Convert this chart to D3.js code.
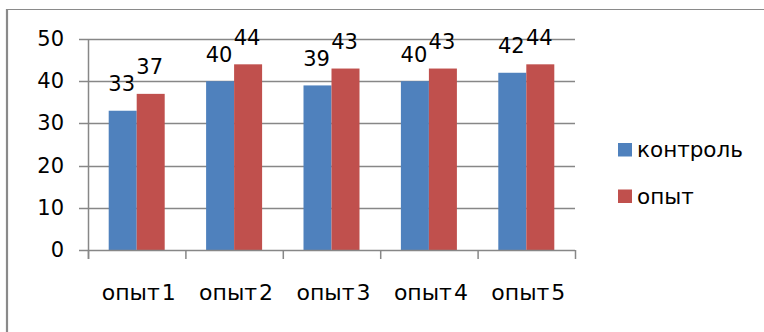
<!DOCTYPE html>
<html>
<head>
<meta charset="utf-8">
<script src="https://cdn.jsdelivr.net/npm/d3@7"></script>
<style>
  html, body { margin: 0; padding: 0; background: #fff; }
  svg { display: block; }
  text { font-family: "DejaVu Sans", Verdana, sans-serif; fill: #000; }
</style>
</head>
<body>
<svg id="chart" width="764" height="332"></svg>
<script>
// Data
const categories = ["опыт 1", "опыт 2", "опыт 3", "опыт 4", "опыт 5"];
const seriesNames = ["контроль", "опыт"];
const controlValues = [33, 40, 39, 40, 42];
const trialValues = [37, 44, 43, 43, 44];
const yTicks = [0, 10, 20, 30, 40, 50];
const colors = ["#4F81BD", "#C0504D"];

const series = [controlValues, trialValues];

const svg = d3.select("#chart");

// Outer frame (top and left edges visible)
svg.append("line").attr("x1", 7).attr("x2", 764).attr("y1", 9.5).attr("y2", 9.5)
  .attr("stroke", "#8a8a8a").attr("stroke-width", 1.2);
svg.append("line").attr("x1", 7).attr("x2", 7).attr("y1", 9).attr("y2", 332)
  .attr("stroke", "#8a8a8a").attr("stroke-width", 2.2);

// Plot area
const plotLeft = 88, plotRight = 575, plotTop = 39, plotBottom = 250;

const x = d3.scaleBand().domain(categories).range([plotLeft, plotRight]).paddingInner(0).paddingOuter(0);
const y = d3.scaleLinear().domain([0, 50]).range([plotBottom, plotTop]);
const innerBand = 28;
const xs = d3.scaleBand().domain(d3.range(series.length)).range([0, innerBand * series.length]);

const gridColor = "#878787";

// Horizontal gridlines, with tick stubs extending left of the axis
svg.append("g").selectAll("line").data(yTicks.filter(t => t > 0)).join("line")
  .attr("x1", plotLeft - 9).attr("x2", plotRight)
  .attr("y1", d => Math.round(y(d)) + 0.5).attr("y2", d => Math.round(y(d)) + 0.5)
  .attr("stroke", gridColor).attr("stroke-width", 1.5);

// Y axis labels
svg.append("g").selectAll("text").data(yTicks).join("text")
  .attr("x", 64).attr("y", d => y(d) + 7)
  .attr("text-anchor", "end")
  .attr("font-size", 21)
  .text(d => d);

// Bars with value labels
const groups = svg.append("g").selectAll("g").data(categories).join("g")
  .attr("transform", c => `translate(${x(c) + x.bandwidth() / 2 - innerBand},0)`);

groups.each(function (c, ci) {
  const g = d3.select(this);
  series.forEach((vals, si) => {
    g.append("rect")
      .attr("x", xs(si))
      .attr("y", y(vals[ci]))
      .attr("width", xs.bandwidth())
      .attr("height", plotBottom - y(vals[ci]))
      .attr("fill", colors[si]);
    g.append("text")
      .attr("x", xs(si) + xs.bandwidth() / 2 - 1)
      .attr("y", y(vals[ci]) - 19.5)
      .attr("text-anchor", "middle")
      .attr("font-size", 21)
      .text(vals[ci]);
  });
});

// Y axis line
svg.append("line").attr("x1", plotLeft + 0.5).attr("x2", plotLeft + 0.5).attr("y1", plotTop).attr("y2", plotBottom + 9)
  .attr("stroke", gridColor).attr("stroke-width", 1.5);

// X axis line and category ticks
svg.append("line").attr("x1", plotLeft - 9).attr("x2", plotRight).attr("y1", plotBottom + 0.5).attr("y2", plotBottom + 0.5)
  .attr("stroke", gridColor).attr("stroke-width", 1.5);
const tickXs = categories.map(c => x(c)).concat([plotRight]);
svg.append("g").selectAll("line").data(tickXs).join("line")
  .attr("x1", d => d + 0.5).attr("x2", d => d + 0.5)
  .attr("y1", plotBottom).attr("y2", plotBottom + 9)
  .attr("stroke", gridColor).attr("stroke-width", 1.5);

// Category labels
svg.append("g").selectAll("text").data(categories).join("text")
  .attr("x", c => x(c) + x.bandwidth() / 2 + 2)
  .attr("y", 300)
  .attr("text-anchor", "middle")
  .attr("font-size", 22)
  .attr("word-spacing", -5)
  .text(c => c);

// Legend
const legend = svg.append("g").selectAll("g").data(seriesNames).join("g")
  .attr("transform", (d, i) => `translate(618,${143 + i * 46.5})`);
legend.append("rect").attr("width", 14).attr("height", 13.5).attr("fill", (d, i) => colors[i]);
legend.append("text").attr("x", 19).attr("y", 14).attr("font-size", 21.5).text(d => d);
</script>
</body>
</html>
